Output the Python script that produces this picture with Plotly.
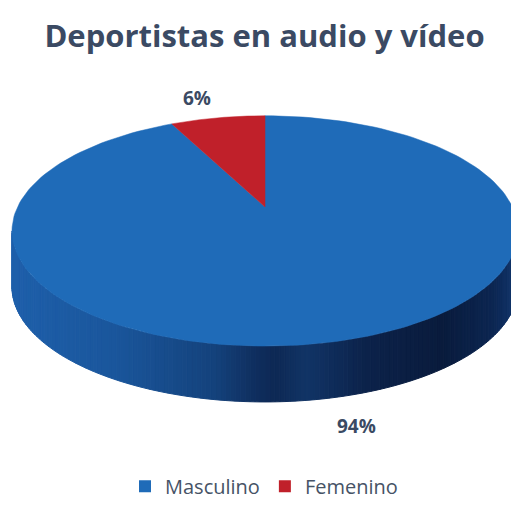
import numpy as np
import plotly.graph_objects as go

# ---- data ----
categories = ["Masculino", "Femenino"]
values = [94, 6]
labels = ["94%", "6%"]
title = "Deportistas en audio y vídeo"

# ---- style ----
top_colors = ["#1f6bb8", "#c0202a"]
text_color = "#3b4a63"
W, H = 519, 506
OFF = 8  # page body margin
cx, cy, a, b = 265.0, 235.5, 253.0, 117.5
apex = (265.0, 211.0)
depth = 57.0

fig = go.Figure()

total = float(sum(values))
bounds = np.concatenate([[0], np.cumsum(values) / total * 2 * np.pi])

def slice_of(phi):
    phi = phi % (2 * np.pi)
    for i in range(len(values)):
        if bounds[i] <= phi < bounds[i + 1]:
            return i
    return len(values) - 1

stops = [(0.0, (30, 95, 170)), (0.2, (26, 86, 156)), (0.4, (20, 66, 124)),
         (0.48, (15, 46, 94)), (0.52, (13, 40, 84)), (0.58, (17, 52, 102)),
         (0.7, (12, 34, 74)), (0.85, (9, 27, 60)), (0.95, (12, 38, 82)), (1.0, (18, 55, 110))]

def shade(frac, base_idx):
    xs = [s[0] for s in stops]
    rgb = [np.interp(frac, xs, [s[1][k] for s in stops]) for k in range(3)]
    if base_idx == 1:
        f = (rgb[0] + rgb[1] + rgb[2]) / (3 * 100.0)
        rgb = [190 * f, 30 * f, 40 * f]
    return "rgb(%d,%d,%d)" % tuple(int(round(v)) for v in rgb)

N = 160
phis = np.linspace(np.pi / 2, 3 * np.pi / 2, N + 1)
for j in range(N):
    p0, p1 = phis[j], phis[j + 1]
    pp = np.linspace(p0, p1, 4)
    xt = cx + a * np.sin(pp)
    yt = cy - b * np.cos(pp)
    xs = np.concatenate([xt, xt[::-1], [xt[0]]])
    ys = np.concatenate([yt, yt[::-1] + depth, [yt[0]]])
    xm = cx + a * np.sin((p0 + p1) / 2)
    col = shade((xm - (cx - a)) / (2 * a), slice_of((p0 + p1) / 2))
    fig.add_trace(go.Scatter(x=xs, y=ys, mode="lines", fill="toself",
                             fillcolor=col, line=dict(color=col, width=1),
                             hoverinfo="skip", showlegend=False))

for i in range(len(values)):
    pp = np.linspace(bounds[i], bounds[i + 1], 200)
    xs = np.concatenate([[apex[0]], cx + a * np.sin(pp), [apex[0]]])
    ys = np.concatenate([[apex[1]], cy - b * np.cos(pp), [apex[1]]])
    fig.add_trace(go.Scatter(x=xs, y=ys, mode="lines", fill="toself",
                             fillcolor=top_colors[i], line=dict(color=top_colors[i], width=0.5),
                             hoverinfo="skip", showlegend=False))

for i, c in enumerate(categories):
    fig.add_trace(go.Scatter(x=[None], y=[None], mode="markers", name=c,
                             marker=dict(symbol="square", size=14, color=top_colors[i])))

label_pos = [(356.5, 435), (197, 100)]
for i, t in enumerate(labels):
    fig.add_annotation(x=label_pos[i][0], y=label_pos[i][1], text="<b>%s</b>" % t,
                       showarrow=False, font=dict(family="Open Sans", size=19, color=text_color))

fw, fh = W - OFF, H - OFF
def py(pix):
    return 1 - (pix - OFF) / fh

fig.update_layout(
    width=fw, height=fh,
    margin=dict(l=0, r=0, t=0, b=0),
    paper_bgcolor="white", plot_bgcolor="white",
    title=dict(text="<b>%s</b>" % title, x=(264.5 - OFF) / fw, xanchor="center",
               y=py(36), yanchor="middle",
               font=dict(family="Open Sans", size=31, color=text_color)),
    xaxis=dict(range=[OFF, W], visible=False, fixedrange=True),
    yaxis=dict(range=[H, OFF], visible=False, fixedrange=True),
    legend=dict(orientation="h", x=(264 - OFF) / fw, xanchor="center", y=py(496), yanchor="middle",
                font=dict(family="Open Sans", size=20, color="#465366"),
                itemsizing="constant", bgcolor="rgba(0,0,0,0)", itemwidth=30),
    showlegend=True,
)

fig.write_html("out.html")
